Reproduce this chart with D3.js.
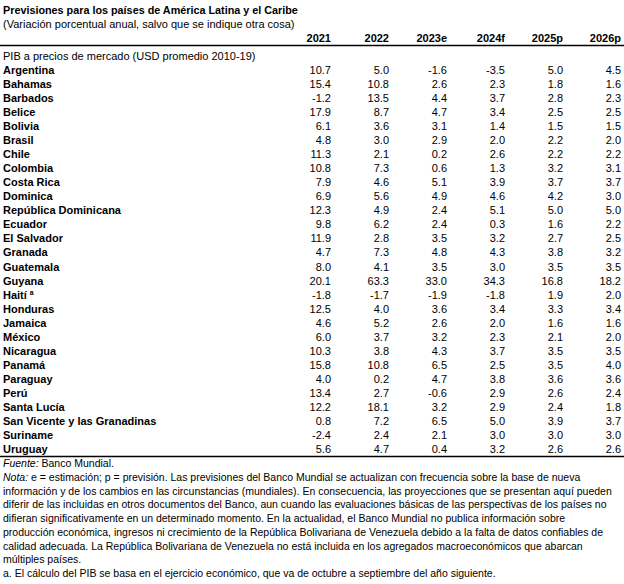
<!DOCTYPE html>
<html><head><meta charset="utf-8">
<script src="https://cdn.jsdelivr.net/npm/d3@7"></script>
<style>
html,body{margin:0;padding:0;background:#fff;}
svg{display:block;font-family:"Liberation Sans",Arial,sans-serif;}
</style></head>
<body>
<svg id="c" width="624" height="584"></svg>
<script>
const title = "Previsiones para los países de América Latina y el Caribe";
const subtitle = "(Variación porcentual anual, salvo que se indique otra cosa)";
const sectionLabel = "PIB a precios de mercado (USD promedio 2010-19)";
const years = ["2021","2022","2023e","2024f","2025p","2026p"];
const countries = ["Argentina","Bahamas","Barbados","Belice","Bolivia","Brasil","Chile","Colombia","Costa Rica","Dominica","República Dominicana","Ecuador","El Salvador","Granada","Guatemala","Guyana","Haití","Honduras","Jamaica","México","Nicaragua","Panamá","Paraguay","Perú","Santa Lucía","San Vicente y las Granadinas","Suriname","Uruguay"];
const v2021 = [10.7,15.4,-1.2,17.9,6.1,4.8,11.3,10.8,7.9,6.9,12.3,9.8,11.9,4.7,8.0,20.1,-1.8,12.5,4.6,6.0,10.3,15.8,4.0,13.4,12.2,0.8,-2.4,5.6];
const v2022 = [5.0,10.8,13.5,8.7,3.6,3.0,2.1,7.3,4.6,5.6,4.9,6.2,2.8,7.3,4.1,63.3,-1.7,4.0,5.2,3.7,3.8,10.8,0.2,2.7,18.1,7.2,2.4,4.7];
const v2023e = [-1.6,2.6,4.4,4.7,3.1,2.9,0.2,0.6,5.1,4.9,2.4,2.4,3.5,4.8,3.5,33.0,-1.9,3.6,2.6,3.2,4.3,6.5,4.7,-0.6,3.2,6.5,2.1,0.4];
const v2024f = [-3.5,2.3,3.7,3.4,1.4,2.0,2.6,1.3,3.9,4.6,5.1,0.3,3.2,4.3,3.0,34.3,-1.8,3.4,2.0,2.3,3.7,2.5,3.8,2.9,2.9,5.0,3.0,3.2];
const v2025p = [5.0,1.8,2.8,2.5,1.5,2.2,2.2,3.2,3.7,4.2,5.0,1.6,2.7,3.8,3.5,16.8,1.9,3.3,1.6,2.1,3.5,3.5,3.6,2.6,2.4,3.9,3.0,2.6];
const v2026p = [4.5,1.6,2.3,2.5,1.5,2.0,2.2,3.1,3.7,3.0,5.0,2.2,2.5,3.2,3.5,18.2,2.0,3.4,1.6,2.0,3.5,4.0,3.6,2.4,1.8,3.7,3.0,2.6];
const footnoteMarks = {"Haití":"a"};
const noteLines = [
  [["Fuente:",true]," Banco Mundial."],
  [["Nota:",true]," e = estimación; p = previsión. Las previsiones del Banco Mundial se actualizan con frecuencia sobre la base de nueva"],
  ["información y de los cambios en las circunstancias (mundiales). En consecuencia, las proyecciones que se presentan aquí pueden"],
  ["diferir de las incluidas en otros documentos del Banco, aun cuando las evaluaciones básicas de las perspectivas de los países no"],
  ["difieran significativamente en un determinado momento. En la actualidad, el Banco Mundial no publica información sobre"],
  ["producción económica, ingresos ni crecimiento de la República Bolivariana de Venezuela debido a la falta de datos confiables de"],
  ["calidad adecuada. La República Bolivariana de Venezuela no está incluida en los agregados macroeconómicos que abarcan"],
  ["múltiples países."],
  ["a. El cálculo del PIB se basa en el ejercicio económico, que va de octubre a septiembre del año siguiente."]
];

const series = [v2021,v2022,v2023e,v2024f,v2025p,v2026p];
const svg = d3.select("#c");
const W = 624;
const fs = 11;

svg.append("text").attr("x",3).attr("y",14).attr("font-size",10.8).attr("font-weight","bold").attr("fill","#000").text(title);
svg.append("text").attr("x",3).attr("y",28).attr("font-size",fs).attr("fill","#000").text(subtitle);

const x = d3.scalePoint().domain(years).range([331,621]);
const y = d3.scaleBand().domain(countries).range([62.5,456.5]).padding(0);
const bw = y.bandwidth();

svg.append("g").selectAll("text").data(years).join("text")
  .attr("x",d=>x(d)).attr("y",42).attr("text-anchor","end")
  .attr("font-size",fs).attr("font-weight","bold").text(d=>d);

svg.append("line").attr("x1",0).attr("x2",W).attr("y1",45.5).attr("y2",45.5).attr("stroke","#000").attr("stroke-width",1.3);

svg.append("text").attr("x",3).attr("y",60).attr("font-size",fs).text(sectionLabel);

const rows = svg.append("g").selectAll("g").data(countries).join("g")
  .attr("transform",d=>`translate(0,${y(d)+bw/2+4})`);
const lbl = rows.append("text").attr("x",3).attr("font-size",fs).attr("font-weight","bold").text(d=>d);
lbl.filter(d=>footnoteMarks[d]).append("tspan").attr("dx",3).attr("dy",-4).attr("font-size",7).text(d=>footnoteMarks[d]);

rows.selectAll("text.v").data((d,i)=>years.map((yr,j)=>({yr,v:series[j][i]}))).join("text")
  .attr("class","v").attr("x",d=>x(d.yr)).attr("text-anchor","end").attr("font-size",fs)
  .text(d=>d3.format(".1f")(d.v).replace("−","-"));

svg.append("line").attr("x1",0).attr("x2",W).attr("y1",456.5).attr("y2",456.5).attr("stroke","#000").attr("stroke-width",1.3);

const notes = svg.append("g");
noteLines.forEach((ln,i)=>{
  const t = notes.append("text").attr("x",3).attr("y",467+i*13.75).attr("font-size",10.5);
  ln.forEach(part=>{
    if(Array.isArray(part)) t.append("tspan").attr("font-style","italic").text(part[0]);
    else t.append("tspan").text(part);
  });
});
</script>
</body></html>
